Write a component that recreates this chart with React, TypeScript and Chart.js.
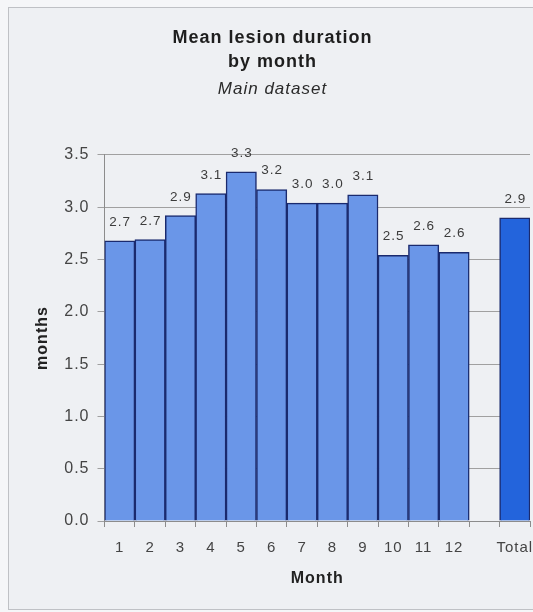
import { useEffect, useRef } from 'react';
import { Chart, registerables } from 'chart.js';

Chart.register(...registerables);

const categories = ['1', '2', '3', '4', '5', '6', '7', '8', '9', '10', '11', '12', '', 'Total'];
const monthValues = [2.68, 2.69, 2.92, 3.13, 3.34, 3.17, 3.04, 3.04, 3.12, 2.54, 2.64, 2.57];
const totalValue = 2.9;
const yTickValues = [0, 0.5, 1.0, 1.5, 2.0, 2.5, 3.0, 3.5];

const FONT = "'Liberation Sans', Arial, Helvetica, sans-serif";
const MONTH_COLOR = '#6a96e8';
const TOTAL_COLOR = '#2364dc';
const BORDER_COLOR = '#1a2a6e';

const spacingPlugin = {
  id: 'letterSpacing',
  beforeDraw(chart: any) {
    chart.ctx.letterSpacing = '1px';
  },
};

const valueLabelPlugin = {
  id: 'valueLabels',
  afterDatasetsDraw(chart: any) {
    const ctx = chart.ctx;
    const meta = chart.getDatasetMeta(0);
    const data = chart.data.datasets[0].data;
    ctx.save();
    ctx.letterSpacing = '1px';
    ctx.font = `13.5px ${FONT}`;
    ctx.fillStyle = '#3c3c3c';
    ctx.textAlign = 'center';
    ctx.textBaseline = 'alphabetic';
    meta.data.forEach((el: any, i: number) => {
      const v = data[i];
      if (v === null || v === undefined) return;
      ctx.fillText(Number(v).toFixed(1), el.x + 0.5, el.y - 15);
    });
    ctx.restore();
  },
};

export default function App() {
  const canvasRef = useRef<HTMLCanvasElement | null>(null);

  useEffect(() => {
    if (!canvasRef.current) return;
    const values: (number | null)[] = [...monthValues, null, totalValue];
    const colors = categories.map((c) => (c === 'Total' ? TOTAL_COLOR : MONTH_COLOR));
    const chart = new Chart(canvasRef.current, {
      type: 'bar',
      data: {
        labels: categories,
        datasets: [
          {
            data: values,
            backgroundColor: colors,
            borderColor: BORDER_COLOR,
            borderWidth: 1.5,
            barPercentage: 1,
            categoryPercentage: 1,
          },
        ],
      },
      plugins: [spacingPlugin, valueLabelPlugin],
      options: {
        responsive: false,
        animation: false,
        layout: { padding: { left: 15, right: 3, top: 0, bottom: 0 } },
        plugins: {
          legend: { display: false },
          tooltip: { enabled: false },
          title: {
            display: true,
            text: ['Mean lesion duration', 'by month'],
            font: { family: FONT, size: 18, weight: 'bold', lineHeight: 1.28 },
            color: '#1e1e1e',
            padding: { top: 27, bottom: 0 },
          },
          subtitle: {
            display: true,
            text: 'Main dataset',
            font: { family: FONT, size: 17, style: 'italic', lineHeight: 1.2 },
            color: '#2a2a2a',
            padding: { top: 6, bottom: 55.5 },
          },
        },
        scales: {
          x: {
            offset: true,
            grid: {
              offset: true,
              drawOnChartArea: false,
              drawTicks: true,
              tickLength: 6,
              color: '#8c8c8c',
            },
            border: { color: '#8c8c8c' },
            ticks: {
              font: { family: FONT, size: 15 },
              color: '#444',
              padding: 12,
              autoSkip: false,
              maxRotation: 0,
            },
            title: {
              display: true,
              text: 'Month',
              font: { family: FONT, size: 16, weight: 'bold' },
              color: '#222',
              padding: { top: 0, bottom: 24 },
            },
            afterFit: (s: any) => {
              s.height = 91;
              s.paddingLeft = 0;
              s.paddingRight = 0;
            },
          },
          y: {
            min: 0,
            max: 3.5,
            afterBuildTicks: (s: any) => {
              s.ticks = yTickValues.map((v) => ({ value: v }));
            },
            ticks: {
              font: { family: FONT, size: 16 },
              color: '#444',
              padding: 8,
              callback: (v: any) => Number(v).toFixed(1),
            },
            grid: { color: '#a0a0a0', tickLength: 7 },
            border: { color: '#8c8c8c' },
            title: {
              display: true,
              text: 'months',
              font: { family: FONT, size: 16, weight: 'bold' },
              color: '#222',
              padding: { top: 18, bottom: 0 },
            },
            afterFit: (s: any) => {
              s.width = 89.5;
              s.paddingTop = 0;
              s.paddingBottom = 0;
            },
          },
        },
      },
    } as any);
    return () => chart.destroy();
  }, []);

  return (
    <div
      style={{
        position: 'absolute',
        left: 0,
        top: 0,
        width: 533,
        height: 612,
        background: '#f5f6f8',
        overflow: 'hidden',
      }}
    >
      <div
        style={{
          position: 'absolute',
          left: 8,
          top: 7,
          width: 600,
          height: 603,
          boxSizing: 'border-box',
          border: '1px solid #bfc1c5',
          background: '#eef0f3',
        }}
      />
      <canvas
        ref={canvasRef}
        width={533}
        height={612}
        style={{ position: 'absolute', left: 0, top: 0, width: 533, height: 612 }}
      />
    </div>
  );
}
